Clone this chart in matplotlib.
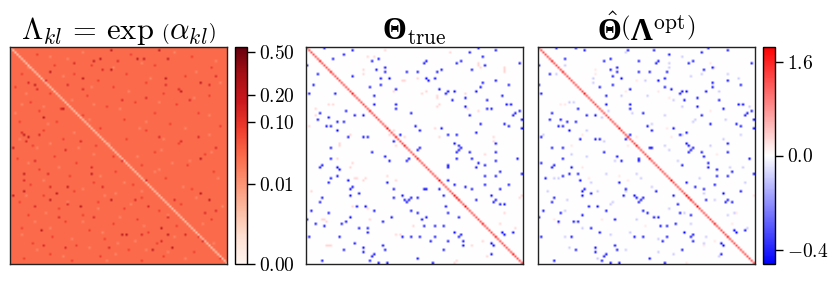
import numpy as np
import matplotlib
matplotlib.use("Agg")
import matplotlib.pyplot as plt
from matplotlib.colors import PowerNorm, TwoSlopeNorm

plt.rcParams["mathtext.fontset"] = "cm"
plt.rcParams["font.family"] = "serif"
plt.rcParams["font.serif"] = ["cmr10", "DejaVu Serif"]
plt.rcParams["axes.formatter.use_mathtext"] = True
plt.rcParams["mathtext.rm"] = "cmr10"
plt.rcParams["mathtext.it"] = "cmmi10"
plt.rcParams["mathtext.bf"] = "Liberation Serif:bold"
plt.rcParams["mathtext.fallback"] = "cm"

N = 100

# Left panel: Lambda values, estimated by eye (row, col)
lambda_base = 0.033
lambda_diag = 0.0012
lambda_dark_value = 0.24
lambda_dark = [(5,41),(5,58),(6,38),(10,46),(11,18),(14,33),(17,11),(14,71),(32,15),(40,6),(41,8),(46,1),
               (51,87),(58,6),(68,1),(69,69),(67,87),(86,51),(86,53),(83,69),(1,46),(1,68),(5,72),(70,91),
               (70,18),(67,21),(28,24),(73,32),(86,72),(93,65),(5,61),(20,78),(16,87),(66,6),(84,14),(64,26),
               (70,46),(58,37),(92,74)]
lambda_mid_value = 0.14
lambda_mid = [(10,42),(6,49),(7,29),(15,16),(19,33),(16,8),(17,26),(19,12),(17,71),(19,77),(17,91),(13,94),
              (24,82),(23,62),(24,51),(28,23),(43,7),(40,13),(39,5),(43,32),(47,25),(41,68),(43,78),(46,94),
              (41,86),(52,11),(61,6),(58,17),(55,37),(72,26),(64,18),(73,11),(78,22),(78,38),(70,57),(73,63),
              (70,75),(75,94),(76,89),(89,69),(86,80),(89,88),(91,15),(92,25),(92,45),(86,60),(78,72),(61,62),
              (52,51),(64,42)]
lambda_warm_value = 0.085
lambda_warm = [(3,12),(3,55),(4,83),(8,20),(8,37),(8,66),(9,92),(12,5),(12,29),(12,53),(13,80),(15,40),(16,62),
               (18,2),(18,47),(21,18),(21,70),(22,35),(22,91),(25,9),(25,57),(26,76),(27,44),(29,13),(30,66),
               (30,86),(31,33),(33,52),(34,4),(34,21),(35,73),(36,96),(37,41),(38,15),(38,62),(42,24),(42,53),
               (44,77),(45,10),(45,39),(48,66),(49,89),(50,20),(50,47),(51,3),(53,30),(54,60),(54,81),(56,13),
               (57,48),(57,93),(59,27),(60,71),(62,38),(63,9),(63,56),(65,83),(66,29),(68,15),(69,60),(71,4),
               (71,40),(72,78),(74,22),(74,52),(75,68),(77,8),(77,33),(79,58),(79,92),(80,25),(81,47),(82,76),
               (83,5),(84,36),(85,63),(87,19),(87,86),(88,43),(90,10),(90,67),(91,30),(93,54),(94,84),(95,18),
               (96,41),(96,70),(97,6),(97,96),(98,28),(98,60)]
lambda_pale_value = 0.015
lambda_pale = [(47,69),(67,48),(5,26),(37,59),(26,5),(93,62),(90,49),(68,43),(26,38),(80,11),(6,94),(46,31),
               (52,82),(44,18),(56,68),(40,91),(2,33),(2,75),(4,18),(7,60),(9,8),(9,47),(11,85),(13,24),(14,64),
               (16,96),(18,37),(20,54),(21,7),(23,84),(24,28),(25,68),(27,15),(28,50),(30,2),(31,91),(33,36),
               (34,62),(35,17),(37,80),(39,29),(42,4),(42,70),(44,45),(46,12),(48,92),(49,38),(50,58),(53,8),
               (53,74),(55,22),(57,66),(59,41),(60,95),(61,15),(62,52),(64,79),(65,33),(66,60),(68,7),(69,85),
               (71,26),(72,55),(73,97),(74,40),(76,16),(77,72),(78,50),(80,33),(81,88),(82,61),(83,18),(85,42),
               (86,5),(87,75),(88,28),(89,57),(90,93),(92,36),(93,12),(94,72),(95,48),(96,24),(97,80),(98,44)]

# Middle panel: Theta_true, upper triangle (row, col), mirrored when drawn
true_neg_value = -1.6
true_neg = [(0,8),(1,21),(1,87),(0,79),(5,12),(6,30),(5,33),(6,55),(7,54),(7,69),(6,71),(4,81),(7,98),(9,36),
            (11,36),(11,46),(11,51),(11,60),(10,76),(8,82),(14,38),(14,55),(15,56),(14,59),(19,61),(16,81),
            (15,87),(17,93),(18,80),(18,29),(17,34),(19,41),(20,78),(20,65),(21,64),(20,68),(23,73),(22,31),
            (26,41),(28,41),(24,83),(26,92),(26,94),(30,48),(27,73),(31,75),(31,95),(33,99),(36,50),(38,52),
            (40,69),(40,65),(35,80),(35,91),(36,93),(37,99),(40,43),(44,68),(45,70),(46,71),(47,70),(48,69),
            (51,69),(48,75),(51,76),(44,87),(48,87),(46,52),(51,47),(54,65),(53,79),(54,82),(51,97),(52,87),
            (59,87),(57,89),(59,82),(58,99),(61,65),(64,73),(65,76),(63,82),(68,85),(63,93),(65,89),(65,55),
            (68,63),(70,78),(71,86),(72,89),(70,87),(72,91),(85,90),(86,91),(85,95),(39,78)]
true_light_neg_value = -0.45
true_light_neg = [(3,17),(10,32),(10,62),(13,21),(14,34),(24,67),(26,31),(22,90),(55,78),(28,83),(28,85),
                  (30,96),(29,98),(37,62),(2,75)]
true_pos_value = 0.3
true_pos = [(4,28),(4,31),(7,79),(9,80),(10,91),(15,45),(20,40),(14,51),(20,55),(23,60),(41,45),(1,36),
            (10,26),(12,26),(15,44),(21,53),(22,60),(26,61),(38,40),(49,82),(68,99),(76,91),(83,96),(89,81),
            (69,98),(43,86),(41,61),(37,59),(29,79),(27,60),(2,66),(73,21),(74,28),(79,8),(86,41),(86,43),(9,91),(11,91)]
true_diag_base = 1.25
true_diag_peak_value = 2.6
true_diag_peaks = [6, 11, 21, 29, 37, 41, 45, 51, 61, 68, 69, 70, 73, 81, 87, 95]

# Right panel: Theta_hat, upper triangle (row, col), mirrored when drawn
hat_neg_value = -1.6
hat_neg = [(1,21),(1,41),(0,78),(1,87),(5,12),(6,30),(5,33),(6,46),(7,54),(6,55),(7,69),(6,71),(7,98),(9,36),
           (11,36),(11,46),(11,51),(11,59),(10,76),(15,55),(14,58),(14,38),(16,80),(15,87),(17,93),(18,80),
           (18,58),(19,61),(18,28),(17,34),(19,42),(20,77),(20,66),(21,65),(20,68),(23,73),(26,42),(28,42),
           (24,83),(26,92),(26,94),(30,48),(27,73),(31,75),(31,95),(33,99),(36,50),(38,52),(39,68),(40,65),
           (35,79),(35,91),(36,93),(37,99),(40,42),(44,68),(45,69),(46,71),(47,70),(48,69),(48,75),(50,76),
           (44,87),(48,87),(46,52),(51,46),(54,66),(53,78),(56,82),(57,89),(51,97),(59,87),(59,82),(58,99),
           (62,68),(64,72),(65,76),(63,81),(67,85),(66,93),(70,77),(71,86),(71,89),(70,87),(84,90),(85,91),(84,95)]
hat_light_neg_value = -0.45
hat_light_neg = [(0,17),(0,8),(1,53),(2,75),(10,33),(9,80),(13,34),(37,62),(30,96),(29,98),(22,31),(24,67),
                 (26,31),(55,78),(3,60),(28,85)]
hat_faint_neg_value = -0.1
hat_faint_neg = [(2,40),(4,66),(8,12),(9,60),(12,87),(13,70),(16,25),(22,50),(25,14),(27,66),(29,32),(31,58),
                 (33,10),(34,71),(38,22),(42,85),(43,30),(47,60),(49,15),(52,35),(55,94),(58,45),(60,7),(62,24),
                 (64,52),(66,40),(67,76),(72,33),(74,60),(75,12),(77,87),(79,45),(81,70),(83,20),(86,33),(88,55),
                 (90,76),(92,14),(93,40),(95,62),(96,83),(97,27)]
hat_pos_value = 0.18
hat_pos = [(7,79),(9,81),(15,45),(20,40),(20,55),(23,60),(37,59),(41,45),(41,61),(49,82),(68,99),(76,91),
           (29,79),(12,26),(83,96),(89,81),(26,10)]
hat_diag_base = 1.25
hat_diag_peak_value = 2.5
hat_diag_peaks = [6, 11, 21, 37, 41, 45, 51, 61, 68, 69, 70, 73, 81, 87]

lambda_ticks = [0.0, 0.01, 0.1, 0.2, 0.5]
theta_ticks = [-0.4, 0.0, 1.6]
titles = [r"$\Lambda_{kl}\,=\,\exp\,\left(\alpha_{kl}\right)$",
          r"$\mathbf{\Theta}_{\mathrm{true}}$",
          r"$\hat{\mathbf{\Theta}}\left(\mathbf{\Lambda}^{\mathrm{opt}}\right)$"]
title_math = ["cm", "custom", "custom"]


def build_lambda():
    m = np.full((N, N), lambda_base)
    for cells, v in ((lambda_pale, lambda_pale_value), (lambda_warm, lambda_warm_value),
                     (lambda_mid, lambda_mid_value), (lambda_dark, lambda_dark_value)):
        for r, c in cells:
            m[r, c] = v
    np.fill_diagonal(m, lambda_diag)
    return m


def build_theta(groups, diag, peak_val, peaks):
    m = np.zeros((N, N))
    for cells, v in groups:
        for r, c in cells:
            m[r, c] = v
            m[c, r] = v
    np.fill_diagonal(m, diag)
    m[peaks, peaks] = peak_val
    return m


lam = build_lambda()
true_m = build_theta([(true_pos, true_pos_value), (true_light_neg, true_light_neg_value), (true_neg, true_neg_value)],
                     true_diag_base, true_diag_peak_value, true_diag_peaks)
hat_m = build_theta([(hat_pos, hat_pos_value), (hat_faint_neg, hat_faint_neg_value),
                     (hat_light_neg, hat_light_neg_value), (hat_neg, hat_neg_value)],
                    hat_diag_base, hat_diag_peak_value, hat_diag_peaks)

W, H = 831, 294
fig = plt.figure(figsize=(W / 100, H / 100), dpi=100)


def box(x0, y0, x1, y1):
    return [x0 / W, 1 - y1 / H, (x1 - x0) / W, (y1 - y0) / H]


ax1 = fig.add_axes(box(10, 47, 227, 264))
ax2 = fig.add_axes(box(306, 47, 523, 264))
ax3 = fig.add_axes(box(538, 47, 755, 264))
cax1 = fig.add_axes(box(235, 47, 247, 264))
cax2 = fig.add_axes(box(763, 47, 775, 264))

lnorm = PowerNorm(0.25, vmin=0, vmax=0.55)
tnorm = TwoSlopeNorm(vcenter=0, vmin=-0.46, vmax=1.85)
im1 = ax1.imshow(lam, cmap="Reds", norm=lnorm, interpolation="bilinear", aspect="auto")
im2 = ax2.imshow(true_m, cmap="bwr", norm=tnorm, interpolation="bilinear", aspect="auto")
im3 = ax3.imshow(hat_m, cmap="bwr", norm=tnorm, interpolation="bilinear", aspect="auto")

for ax, t, mf in zip((ax1, ax2, ax3), titles, title_math):
    ax.set_xticks([])
    ax.set_yticks([])
    ax.set_title(t, fontsize=22, pad=2, math_fontfamily=mf)
    for s in ax.spines.values():
        s.set_linewidth(1.0)
        s.set_color("#222222")

cb1 = fig.colorbar(im1, cax=cax1)
cb1.set_ticks(lambda_ticks)
cb1.set_ticklabels([f"${v:.2f}$" for v in lambda_ticks])
cb2 = fig.colorbar(im3, cax=cax2)
cb2.set_ticks(theta_ticks)
cb2.set_ticklabels([f"${v:.1f}$" for v in theta_ticks])
for cb in (cb1, cb2):
    cb.ax.minorticks_off()
    cb.ax.tick_params(length=5.5, width=1, labelsize=14, pad=3)
    cb.outline.set_linewidth(1.0)

fig.savefig("out.png", dpi=100)
